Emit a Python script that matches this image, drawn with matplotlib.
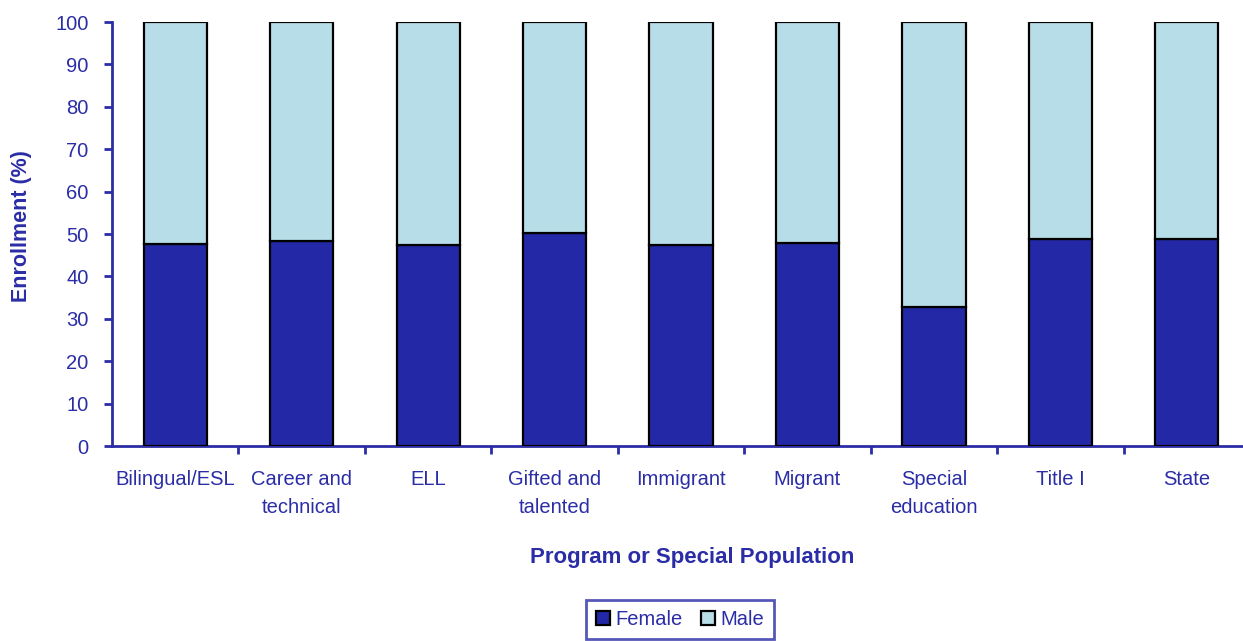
import matplotlib
matplotlib.use("Agg")
import matplotlib.pyplot as plt
import numpy as np

categories = ["Bilingual/ESL", "Career and\ntechnical", "ELL", "Gifted and\ntalented",
              "Immigrant", "Migrant", "Special\neducation", "Title I", "State"]
female = [47.6, 48.4, 47.3, 50.2, 47.5, 47.9, 32.9, 48.8, 48.8]
male = [100 - f for f in female]

navy = "#2B2DA6"
female_color = "#2329A6"
male_color = "#B7DEE8"

plt.rcParams["font.family"] = ["Liberation Sans", "DejaVu Sans"]

fig = plt.figure(figsize=(12.43, 6.41), dpi=100)
ax = fig.add_axes([112 / 1243, 195 / 641, 1138 / 1243, 424 / 641])

x = np.arange(len(categories))
ax.bar(x, female, width=0.5, color=female_color, edgecolor="black", linewidth=1.6,
       label="Female", zorder=3)
ax.bar(x, male, width=0.5, bottom=female, color=male_color, edgecolor="black",
       linewidth=1.6, label="Male", zorder=3)

ax.set_xlim(-0.5, len(categories) - 0.5)
ax.set_ylim(0, 100)
ax.set_yticks(np.arange(0, 101, 10))

ax.set_xticks(x)
ax.set_xticklabels(categories, fontsize=14.5, color=navy, linespacing=1.65)
ax.tick_params(axis="x", which="major", length=0, pad=17)
ax.set_xticks(np.arange(0.5, len(categories) - 0.5, 1), minor=True)
ax.tick_params(axis="x", which="minor", length=6, width=2, color=navy, direction="out")
ax.tick_params(axis="y", labelsize=14.5, labelcolor=navy, length=6, width=2,
               color=navy, pad=11)

for side in ("top", "right"):
    ax.spines[side].set_visible(False)
for side in ("left", "bottom"):
    ax.spines[side].set_color(navy)
    ax.spines[side].set_linewidth(2)

ax.set_ylabel("Enrollment (%)", fontsize=15.5, fontweight="bold", color=navy)
ax.yaxis.set_label_coords(-0.0703, 0.518)
fig.text(692 / 1243, 1 - 558 / 641, "Program or Special Population", fontsize=16,
         fontweight="bold", color=navy, ha="center", va="center")

leg = fig.legend(loc="upper center", bbox_to_anchor=(680 / 1243, 1 - 600 / 641),
                 ncol=2, frameon=True, fancybox=False, fontsize=14.5,
                 handlelength=0.7, handleheight=0.7, handletextpad=0.25,
                 columnspacing=0.9, borderpad=0.5, borderaxespad=0)
leg.get_frame().set_edgecolor(navy)
leg.get_frame().set_linewidth(2)
for t in leg.get_texts():
    t.set_color(navy)

fig.savefig("out.png", dpi=100)
